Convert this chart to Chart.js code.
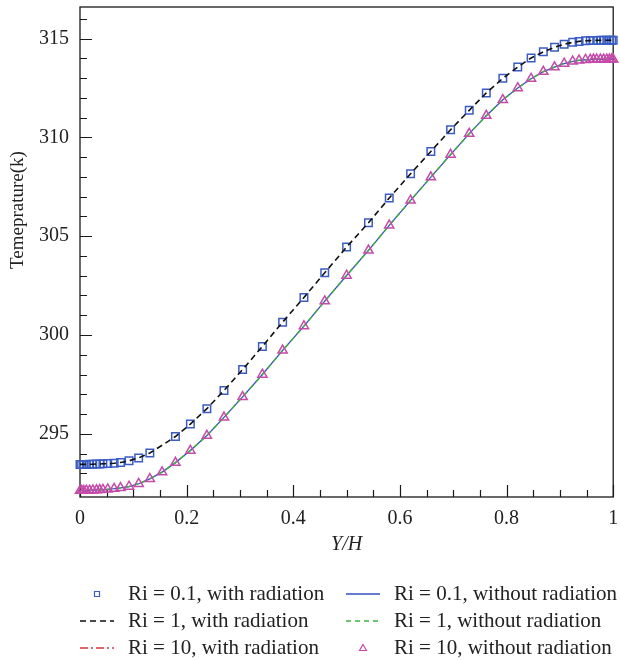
<!DOCTYPE html>
<html>
<head>
<meta charset="utf-8">
<script src="https://cdn.jsdelivr.net/npm/chart.js@4.4.0/dist/chart.umd.min.js"></script>
<style>
  html, body { margin: 0; padding: 0; background: #fff; }
  #wrap { width: 620px; height: 660px; }
</style>
</head>
<body>
<div id="wrap"><canvas id="chart" width="620" height="660"></canvas></div>
<script>
// Y/H positions of the solution points (clustered near both walls)
const yH = [0, 0.003, 0.007, 0.012, 0.018, 0.024, 0.031, 0.037, 0.043, 0.052,
  0.064, 0.076, 0.092, 0.110, 0.131, 0.154, 0.179, 0.207, 0.238, 0.270,
  0.305, 0.342, 0.380, 0.420, 0.459, 0.500, 0.541, 0.580, 0.620, 0.658,
  0.695, 0.730, 0.762, 0.793, 0.821, 0.846, 0.869, 0.890, 0.908, 0.924,
  0.936, 0.948, 0.957, 0.963, 0.969, 0.976, 0.982, 0.988, 0.993, 0.997, 1];

// temperature (K) with radiation - all Ri collapse on this curve
const tempWithRad = [293.45, 293.45, 293.45, 293.45, 293.46, 293.46, 293.47, 293.47, 293.48, 293.49,
  293.51, 293.55, 293.63, 293.78, 294.03, 294.42, 294.86, 295.49, 296.27, 297.19,
  298.25, 299.42, 300.65, 301.90, 303.15, 304.45, 305.68, 306.93, 308.16, 309.29,
  310.39, 311.37, 312.25, 312.99, 313.56, 314.02, 314.33, 314.56, 314.72, 314.81,
  314.86, 314.89, 314.90, 314.91, 314.91, 314.92, 314.92, 314.92, 314.92, 314.92, 314.92];

// temperature (K) without radiation
const tempNoRad = [292.12, 292.12, 292.12, 292.13, 292.13, 292.14, 292.15, 292.16, 292.17, 292.19,
  292.22, 292.26, 292.33, 292.47, 292.72, 293.06, 293.54, 294.15, 294.91, 295.83,
  296.87, 298.00, 299.22, 300.45, 301.71, 303.01, 304.28, 305.55, 306.81, 307.99,
  309.13, 310.19, 311.10, 311.90, 312.50, 312.97, 313.33, 313.56, 313.74, 313.85,
  313.90, 313.93, 313.94, 313.95, 313.95, 313.95, 313.95, 313.95, 313.95, 313.95, 313.95];

// the square markers in the figure skip the point at Y/H = 0.154
const skippedSquare = 15;

const seriesLabels = [
  'Ri = 0.1, with radiation', 'Ri = 1, with radiation', 'Ri = 10, with radiation',
  'Ri = 0.1, without radiation', 'Ri = 1, without radiation', 'Ri = 10, without radiation'
];

const xTickValues = [0, 0.2, 0.4, 0.6, 0.8, 1];
const yTickValues = [295, 300, 305, 310, 315];

const serif = "'Liberation Serif', 'Times New Roman', serif";

function toPoints(values) {
  return yH.map((x, i) => ({ x: x, y: values[i] }));
}

const squarePts = toPoints(tempWithRad).map((p, i) => i === skippedSquare ? { x: p.x, y: null } : p);

const datasets = [
  { label: seriesLabels[0], data: squarePts, showLine: false, pointStyle: 'rect',
    pointRadius: 5.3, borderColor: '#3b5cc4', backgroundColor: 'rgba(0,0,0,0)', pointBorderWidth: 1.5, order: 6 },
  { label: seriesLabels[1], data: toPoints(tempWithRad), showLine: true, borderColor: '#111', borderWidth: 1.6,
    borderDash: [6, 4], pointRadius: 0, order: 5 },
  // this one is not visible in the figure, only in its legend
  { label: seriesLabels[2], data: [], showLine: true, borderColor: '#d8363e', borderWidth: 1.5,
    borderDash: [8, 3, 2, 3], pointRadius: 0, order: 4 },
  { label: seriesLabels[3], data: toPoints(tempNoRad), showLine: true, borderColor: '#3350c0', borderWidth: 1.3,
    pointRadius: 0, order: 3 },
  { label: seriesLabels[4], data: toPoints(tempNoRad), showLine: true, borderColor: '#3cb043', borderWidth: 1.5,
    borderDash: [5, 4], pointRadius: 0, order: 2 },
  { label: seriesLabels[5], data: toPoints(tempNoRad), showLine: false, pointStyle: 'triangle',
    pointRadius: 5.3, borderColor: '#c64aa9', backgroundColor: 'rgba(0,0,0,0)', pointBorderWidth: 1.5, order: 1 }
];
datasets.forEach(d => { d.clip = false; d.tension = 0; });

// frame around the plot with inward major/minor ticks, plus the y title
const frameTicks = {
  id: 'frameTicks',
  beforeDatasetsDraw(chart) {
    const { ctx, chartArea: a, scales: { x, y } } = chart;
    ctx.save();
    ctx.strokeStyle = '#1a1a1a';
    ctx.lineWidth = 1.3;
    ctx.strokeRect(a.left, a.top, a.right - a.left, a.bottom - a.top);
    ctx.lineWidth = 1.2;
    ctx.beginPath();
    for (let i = 0; i <= 20; i++) {
      const px = Math.round(x.getPixelForValue(i * 0.05)) + 0.5;
      const len = i % 4 === 0 ? 12 : 7;
      ctx.moveTo(px, a.bottom);
      ctx.lineTo(px, a.bottom - len);
    }
    for (let v = 292; v <= 316; v++) {
      const py = Math.round(y.getPixelForValue(v)) + 0.5;
      const len = v % 5 === 0 ? 12 : 7;
      ctx.moveTo(a.left, py);
      ctx.lineTo(a.left + len, py);
    }
    ctx.stroke();

    // y axis title sits a little above the middle in the original
    ctx.translate(18, 210);
    ctx.rotate(-Math.PI / 2);
    ctx.font = '19px ' + serif;
    ctx.fillStyle = '#222';
    ctx.textAlign = 'center';
    ctx.textBaseline = 'middle';
    ctx.fillText('Temeprature(k)', 0, 0);
    ctx.restore();
  }
};

// two column legend under the axis title
const legendLayout = { columns: [[0, 1, 2], [3, 4, 5]], sampleX: [97, 363], textX: [128, 394],
  rowY: [594, 621, 648], sampleHalf: 17 };

const bottomLegend = {
  id: 'bottomLegend',
  afterDraw(chart) {
    const ctx = chart.ctx;
    ctx.save();
    ctx.font = '21px ' + serif;
    ctx.textBaseline = 'middle';
    ctx.fillStyle = '#222';
    legendLayout.columns.forEach((col, c) => {
      col.forEach((di, r) => {
        const ds = chart.data.datasets[di];
        const cx = legendLayout.sampleX[c];
        const cy = legendLayout.rowY[r];
        ctx.strokeStyle = ds.borderColor;
        if (ds.showLine === false) {
          ctx.setLineDash([]);
          ctx.lineWidth = 1.2;
          ctx.beginPath();
          if (ds.pointStyle === 'rect') {
            ctx.rect(cx - 2.5, cy - 2.5, 5, 5);
          } else {
            ctx.moveTo(cx, cy - 3.5);
            ctx.lineTo(cx + 3.5, cy + 2.5);
            ctx.lineTo(cx - 3.5, cy + 2.5);
            ctx.closePath();
          }
          ctx.stroke();
        } else {
          ctx.setLineDash(ds.borderDash || []);
          ctx.lineWidth = ds.borderWidth;
          ctx.beginPath();
          ctx.moveTo(cx - legendLayout.sampleHalf, cy);
          ctx.lineTo(cx + legendLayout.sampleHalf, cy);
          ctx.stroke();
        }
        ctx.setLineDash([]);
        ctx.fillText(ds.label, legendLayout.textX[c], cy);
      });
    });
    ctx.restore();
  }
};

new Chart(document.getElementById('chart'), {
  type: 'scatter',
  data: { datasets: datasets },
  options: {
    responsive: false,
    animation: false,
    devicePixelRatio: 1,
    layout: { padding: { top: 7, right: 3, left: 0, bottom: 103 } },
    plugins: { legend: { display: false }, tooltip: { enabled: false } },
    scales: {
      x: {
        type: 'linear', min: 0, max: 1,
        afterBuildTicks: s => { s.ticks = xTickValues.map(v => ({ value: v })); },
        afterFit: s => { s.height = 60; s.paddingLeft = 0; s.paddingRight = 0; },
        grid: { display: false, drawTicks: false },
        border: { display: false },
        ticks: { color: '#222', padding: 10, maxRotation: 0, font: { family: serif, size: 20 },
          callback: v => String(v) },
        title: { display: true, text: 'Y/H', color: '#222', padding: { top: 0, bottom: 0 },
          font: { family: serif, size: 20, style: 'italic' } }
      },
      y: {
        type: 'linear', min: 291.8, max: 316.6,
        afterBuildTicks: s => { s.ticks = yTickValues.map(v => ({ value: v })); },
        afterFit: s => { s.width = 80; s.paddingTop = 0; s.paddingBottom = 0; },
        grid: { display: false, drawTicks: false },
        border: { display: false },
        ticks: { color: '#222', padding: 11, font: { family: serif, size: 20 } },
        title: { display: false }
      }
    }
  },
  plugins: [frameTicks, bottomLegend]
});
</script>
</body>
</html>
